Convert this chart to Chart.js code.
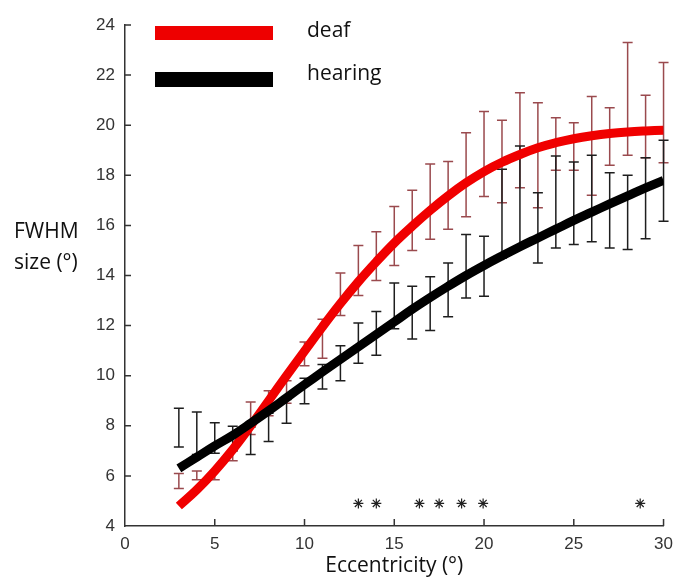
<!DOCTYPE html>
<html>
<head>
<meta charset="utf-8">
<script src="https://cdn.jsdelivr.net/npm/chart.js@4.4.0/dist/chart.umd.min.js"></script>
<style>
  body { margin: 0; background: #fff; }
  #wrap { width: 681px; height: 578px; }
</style>
</head>
<body>
<div id="wrap"><canvas id="fwhm" width="681" height="578"></canvas></div>
<script>
// eccentricity (deg)
const ecc = [3, 4, 5, 6, 7, 8, 9, 10, 11, 12, 13, 14, 15, 16, 17, 18, 19, 20, 21, 22, 23, 24, 25, 26, 27, 28, 29, 30];

// fitted curves
const deafFit = [4.8, 5.45, 6.2, 7.05, 8.0, 9.0, 10.0, 10.98, 11.95, 12.88, 13.75, 14.55, 15.3, 15.97, 16.6, 17.18, 17.7, 18.15, 18.52, 18.83, 19.1, 19.3, 19.46, 19.58, 19.67, 19.73, 19.77, 19.8];
const hearingFit = [6.3, 6.75, 7.2, 7.62, 8.1, 8.6, 9.12, 9.64, 10.15, 10.65, 11.15, 11.65, 12.15, 12.65, 13.12, 13.57, 14.0, 14.4, 14.78, 15.15, 15.5, 15.85, 16.2, 16.53, 16.86, 17.18, 17.5, 17.8];

// error bars (low / high)
const deafLo = [5.5, 5.85, 5.85, 6.6, 7.65, 8.4, 8.9, 10.4, 10.7, 12.4, 13.2, 13.8, 14.4, 15.0, 15.45, 15.85, 16.35, 17.15, 16.9, 17.5, 16.7, 18.2, 18.2, 17.2, 18.4, 18.8, 18.7, 18.5];
const deafHi = [6.1, 6.2, 6.2, 7.0, 8.95, 9.4, 9.8, 11.35, 12.25, 14.1, 15.2, 15.75, 16.75, 17.4, 18.45, 18.55, 19.7, 20.55, 20.2, 21.3, 20.9, 20.3, 20.1, 21.15, 20.7, 23.3, 21.2, 22.5];
const hearLo = [7.15, 6.85, 6.9, 7.0, 6.85, 7.37, 8.1, 8.88, 9.47, 9.8, 10.5, 10.82, 11.87, 11.47, 11.8, 12.35, 13.1, 13.17, 14.7, 15.1, 14.5, 15.1, 15.24, 15.35, 15.1, 15.04, 15.47, 16.17];
const hearHi = [8.7, 8.55, 8.12, 7.98, 7.95, 8.5, 9.05, 9.9, 10.45, 11.2, 12.1, 12.56, 13.7, 13.57, 13.95, 14.5, 15.64, 15.57, 18.24, 19.17, 17.3, 18.77, 18.53, 18.8, 18.1, 18.0, 18.7, 19.4];

// significance markers
const starX = [13, 14, 16.4, 17.5, 18.75, 19.95, 28.7];
const starY = 4.9;

const xTicks = [0, 5, 10, 15, 20, 25, 30];
const yTicks = [4, 6, 8, 10, 12, 14, 16, 18, 20, 22, 24];

const labelFont = "'Open Sans', 'Lato', sans-serif";

const errorBars = {
  id: 'errorBars',
  beforeDatasetsDraw(chart) {
    const ctx = chart.ctx;
    const xs = chart.scales.x, ys = chart.scales.y;
    const sets = [
      { lo: deafLo, hi: deafHi, color: '#9a4a4e' },
      { lo: hearLo, hi: hearHi, color: '#1e1e1e' }
    ];
    ctx.save();
    ctx.lineWidth = 1.5;
    sets.forEach(s => {
      ctx.strokeStyle = s.color;
      ecc.forEach((e, i) => {
        const px = xs.getPixelForValue(e);
        const y1 = ys.getPixelForValue(s.lo[i]);
        const y2 = ys.getPixelForValue(s.hi[i]);
        ctx.beginPath();
        ctx.moveTo(px, y1); ctx.lineTo(px, y2);
        ctx.moveTo(px - 5, y1); ctx.lineTo(px + 5, y1);
        ctx.moveTo(px - 5, y2); ctx.lineTo(px + 5, y2);
        ctx.stroke();
      });
    });
    ctx.restore();
  }
};

// inward tick marks, horizontal y title and the legend
const decor = {
  id: 'decor',
  afterDraw(chart) {
    const ctx = chart.ctx;
    const xs = chart.scales.x, ys = chart.scales.y;
    const area = chart.chartArea;
    ctx.save();
    ctx.strokeStyle = '#333';
    ctx.lineWidth = 1.5;
    ctx.beginPath();
    yTicks.forEach(v => {
      if (v === 4) return;
      const py = ys.getPixelForValue(v);
      ctx.moveTo(area.left, py); ctx.lineTo(area.left + 6, py);
    });
    xTicks.forEach(v => {
      if (v === 0) return;
      const px = xs.getPixelForValue(v);
      ctx.moveTo(px, area.bottom); ctx.lineTo(px, area.bottom - 7);
    });
    ctx.stroke();

    ctx.fillStyle = '#111';
    ctx.font = "21px " + labelFont;
    ctx.textBaseline = 'middle';
    ctx.textAlign = 'left';
    ctx.fillText('FWHM', 14, 232);
    ctx.fillText('size (°)', 14, 263);

    // legend
    ctx.fillStyle = '#ee0000';
    ctx.fillRect(155, 26, 118, 14);
    ctx.fillStyle = '#000';
    ctx.fillRect(155, 72, 118, 15);
    ctx.fillStyle = '#111';
    ctx.fillText('deaf', 307, 31);
    ctx.fillText('hearing', 307, 74);
    ctx.restore();
  }
};

const ctx = document.getElementById('fwhm');
const chart = new Chart(ctx, {
  type: 'line',
  data: {
    datasets: [{
      type: 'scatter',
      label: 'p < 0.05',
      data: starX.map(x => ({ x: x, y: starY })),
      pointStyle: 'star',
      radius: 5,
      borderColor: '#222',
      borderWidth: 1.2,
      backgroundColor: '#222'
    }, {
      label: 'hearing',
      data: ecc.map((x, i) => ({ x: x, y: hearingFit[i] })),
      borderColor: '#000',
      borderWidth: 9,
      pointRadius: 0,
      tension: 0.4,
      borderCapStyle: 'butt',
      fill: false
    }, {
      label: 'deaf',
      data: ecc.map((x, i) => ({ x: x, y: deafFit[i] })),
      borderColor: '#f00000',
      borderWidth: 9,
      pointRadius: 0,
      tension: 0.4,
      borderCapStyle: 'butt',
      fill: false
    }]
  },
  options: {
    responsive: false,
    animation: false,
    layout: {
      padding: { left: 0, right: 9, top: 25, bottom: 0 }
    },
    plugins: {
      legend: { display: false },
      tooltip: { enabled: false }
    },
    scales: {
      x: {
        type: 'linear',
        min: 0,
        max: 30,
        afterBuildTicks: s => { s.ticks = xTicks.map(v => ({ value: v })); },
        afterFit: s => { s.height = 52; },
        grid: { display: false, drawTicks: false },
        border: { display: true, color: '#333', width: 1.5 },
        ticks: {
          color: '#333',
          padding: 8,
          maxRotation: 0,
          font: { family: "'Liberation Sans', sans-serif", size: 17 }
        },
        title: {
          display: true,
          text: 'Eccentricity (°)',
          color: '#111',
          padding: { top: 0, bottom: -1 },
          font: { family: labelFont, size: 21 }
        }
      },
      y: {
        min: 4,
        max: 24,
        afterBuildTicks: s => { s.ticks = yTicks.map(v => ({ value: v })); },
        afterFit: s => { s.width = 125; },
        grid: { display: false, drawTicks: false },
        border: { display: true, color: '#333', width: 1.5 },
        ticks: {
          color: '#333',
          padding: 10,
          font: { family: "'Liberation Sans', sans-serif", size: 17 }
        }
      }
    }
  },
  plugins: [errorBars, decor]
});
</script>
</body>
</html>
